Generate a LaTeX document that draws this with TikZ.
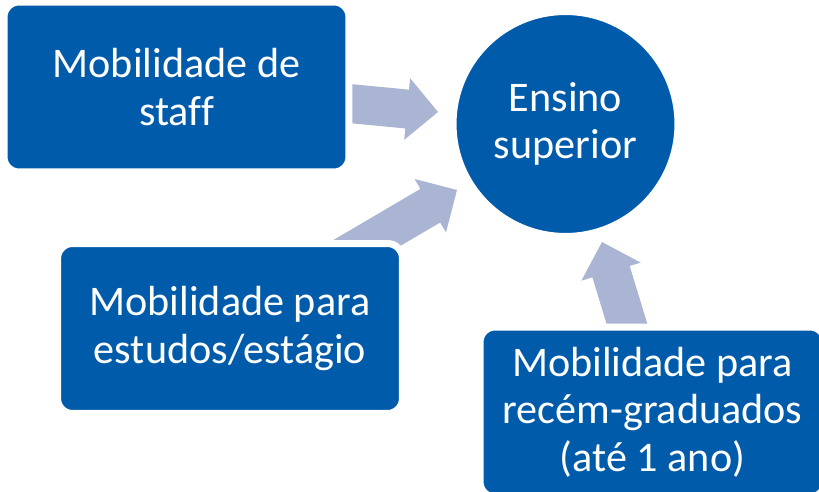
\documentclass[tikz,border=0pt]{standalone}
\usepackage{fontspec}
\setmainfont[Ligatures=CommonOff]{Carlito}
\usetikzlibrary{calc}
\definecolor{boxblue}{RGB}{0,91,170}
\definecolor{arrowgray}{RGB}{170,181,211}
\tikzset{
  blok/.style={draw=white, line width=0.14cm, fill=boxblue, text=white, align=center,
    rounded corners=0.3cm, minimum width=6.9cm, minimum height=3.4cm,
    font=\fontsize{24}{27}\selectfont},
}
\def\sw{0.39cm}\def\hw{0.62cm}\def\hl{0.62cm}
% block arrow from tail #1 to tip #2
\newcommand\muiten[2]{%
  \path ($(#2)!\hl!(#1)$) coordinate (#2b);
  \fill[arrowgray] ($(#1)!\sw!90:(#2)$) -- ($(#2b)!\sw!90:(#2)$) -- ($(#2b)!\hw!90:(#2)$)
    -- (#2) -- ($(#2b)!\hw!-90:(#2)$) -- ($(#2b)!\sw!-90:(#2)$) -- ($(#1)!\sw!-90:(#2)$) -- cycle;}
\begin{document}
\begin{tikzpicture}[x=0.02cm, y=0.02cm]
\useasboundingbox (0,0) rectangle (819,491);
\clip (0,0) rectangle (819,491);
\path (333.5,389) coordinate (tA) (438,379) coordinate (pA)
  (327.7,225) coordinate (tB) (457,301) coordinate (pB)
  (633.4,146) coordinate (tC) (602,249) coordinate (pC);
\foreach \x in {A,B,C}{\muiten{t\x}{p\x}}
\node[blok] (staff) at (176.5,404) {Mobilidade de\\staff};
\node[blok] (estudos) at (230,162.5) {Mobilidade para\\estudos/estágio};
\node[blok] (recem) at (652.5,79) {Mobilidade para\\recém-graduados\\(até 1 ano)};
\node[blok, circle, minimum size=4.5cm] (ensino) at (565.5,367) {Ensino\\superior};
\end{tikzpicture}
\end{document}
